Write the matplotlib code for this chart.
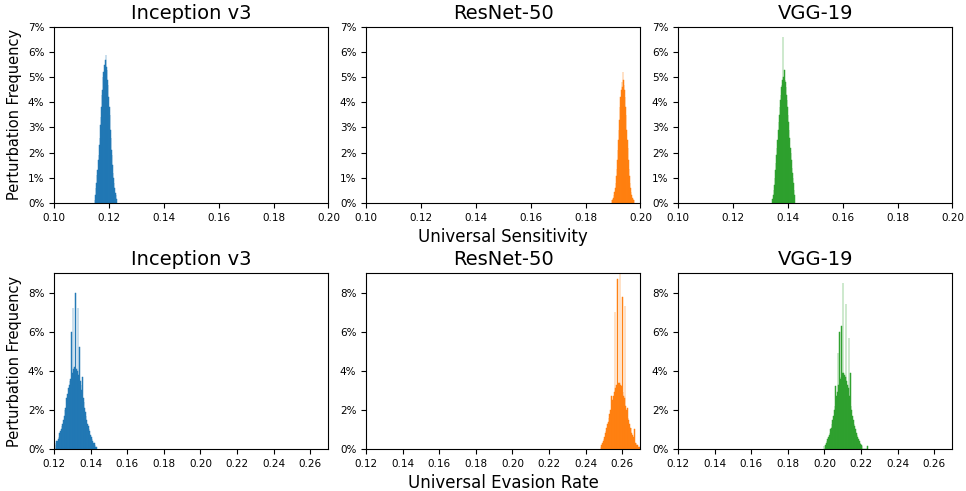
import matplotlib
matplotlib.use('Agg')
import matplotlib.pyplot as plt
import numpy as np
from matplotlib.ticker import PercentFormatter

models = ['Inception v3', 'ResNet-50', 'VGG-19']
colors = ['#1f77b4', '#ff7f0e', '#2ca02c']

# Universal sensitivity histograms (bin width 0.0002, heights in %)
sens_step = 0.0002
sens_start = [0.1149, 0.1896, 0.1345]
sens_incep = [0.1, 0.3, 0.6, 0.8, 1.1, 1.3, 1.7, 1.9, 2.3, 2.6, 3.1, 3.4, 3.8, 4.3,
              4.5, 5.0, 5.2, 5.5, 5.4, 5.7, 5.9, 5.4, 5.3, 4.9, 4.7, 4.2, 3.8, 3.5,
              2.9, 2.6, 2.1, 1.9, 1.5, 1.2, 1.0, 0.8, 0.6, 0.4, 0.3, 0.15]
sens_resnet = [0.1, 0.1, 0.15, 0.2, 0.3, 0.45, 0.6, 0.8, 1.05, 1.35, 1.7, 2.1, 2.5,
               2.9, 3.3, 3.8, 4.2, 4.5, 4.8, 4.6, 5.2, 4.9, 4.7, 4.5, 4.2, 3.8, 3.5,
               2.9, 2.5, 2.2, 1.7, 1.35, 1.05, 0.8, 0.6, 0.45, 0.3, 0.2, 0.15, 0.1, 0.1]
sens_vgg = [0.15, 0.3, 0.5, 0.7, 1.0, 1.3, 1.6, 1.9, 2.2, 2.5, 2.9, 3.2, 3.5, 3.8,
            4.1, 4.3, 4.6, 4.7, 4.9, 6.6, 5.0, 5.3, 4.9, 4.8, 4.6, 4.3, 4.1, 3.8,
            3.5, 3.2, 2.9, 2.6, 2.2, 2.0, 1.7, 1.4, 1.2, 1.0, 0.8, 0.5, 0.3]

# Universal evasion rate histograms (bin width 0.0004, heights in %)
evas_step = 0.0004
evas_start = [0.1199, 0.2484, 0.1998]
evas_incep = [0.15, 0.2, 0.0, 0.3, 0.4, 0.4, 0.5, 0.6, 0.8, 0.9, 1.0, 1.2, 1.3, 1.5,
              1.7, 2.0, 2.1, 2.6, 2.6, 2.8, 3.1, 3.3, 3.5, 3.6, 6.0, 3.9, 7.2, 4.1,
              4.2, 4.2, 8.0, 4.1, 4.0, 7.2, 3.8, 5.2, 3.5, 3.3, 3.0, 3.7, 2.6, 2.4,
              2.1, 1.9, 1.7, 1.5, 1.3, 1.2, 1.0, 0.9, 0.7, 0.6, 0.5, 0.4, 0.3, 0.3,
              0.2, 0.1, 0.1]
evas_resnet = [0.1, 0.2, 0.3, 0.4, 0.5, 0.6, 0.8, 0.9, 1.1, 1.3, 1.4, 1.6, 1.8, 2.0,
               2.7, 2.3, 2.5, 2.7, 2.9, 7.0, 3.1, 3.3, 3.3, 8.7, 3.4, 3.4, 9.0, 3.3,
               3.2, 7.8, 2.9, 2.7, 2.6, 7.3, 2.2, 2.0, 2.1, 1.6, 1.5, 1.3, 1.1, 1.1,
               0.8, 0.7, 0.6, 0.5, 1.0, 0.3, 0.3, 0.2, 0.2, 0.1, 0.1, 0.1]
evas_vgg = [0.15, 0.0, 0.2, 0.3, 0.4, 0.5, 0.6, 0.7, 0.8, 1.0, 1.1, 1.3, 1.5, 1.7,
            2.0, 2.2, 3.2, 2.7, 2.9, 4.9, 3.3, 6.0, 3.6, 3.7, 6.3, 3.9, 8.5, 3.9,
            3.8, 3.7, 7.4, 3.5, 3.3, 3.1, 5.7, 2.7, 3.9, 2.2, 2.0, 1.7, 1.5, 1.3,
            1.2, 1.0, 0.8, 0.7, 0.6, 0.5, 0.4, 0.3, 0.25, 0.2, 0.15, 0.0, 0.0, 0.0,
            0.0, 0.0, 0.0, 0.15]

sens_data = [sens_incep, sens_resnet, sens_vgg]
evas_data = [evas_incep, evas_resnet, evas_vgg]

sens_xticks = [0.10, 0.12, 0.14, 0.16, 0.18, 0.20]
evas_xticks = [0.12, 0.14, 0.16, 0.18, 0.20, 0.22, 0.24, 0.26]

fig, axes = plt.subplots(2, 3, figsize=(9.66, 4.91), dpi=100)
fig.subplots_adjust(left=0.056, right=0.986, top=0.945, bottom=0.0855,
                    wspace=0.137, hspace=0.4)

for i in range(3):
    # top row: sensitivity
    ax = axes[0, i]
    h = np.array(sens_data[i])
    centers = sens_start[i] + np.arange(len(h)) * sens_step
    ax.bar(centers, h, width=sens_step, color=colors[i],
           edgecolor=colors[i], linewidth=0.35, alpha=0.95)
    ax.set_xlim(0.10, 0.20)
    ax.set_ylim(0, 7)
    ax.set_xticks(sens_xticks)
    ax.set_xticklabels([f'{t:.2f}' for t in sens_xticks])
    ax.set_yticks(range(0, 8))
    ax.yaxis.set_major_formatter(PercentFormatter(100, decimals=0))
    ax.set_title(models[i], fontsize=14)
    ax.tick_params(labelsize=7.5)

    # bottom row: evasion rate
    ax = axes[1, i]
    h = np.array(evas_data[i])
    centers = evas_start[i] + np.arange(len(h)) * evas_step
    ax.bar(centers, h, width=evas_step, color=colors[i],
           edgecolor=colors[i], linewidth=0.35, alpha=0.95)
    ax.set_xlim(0.12, 0.27)
    ax.set_ylim(0, 9)
    ax.set_xticks(evas_xticks)
    ax.set_xticklabels([f'{t:.2f}' for t in evas_xticks])
    ax.set_yticks([0, 2, 4, 6, 8])
    ax.yaxis.set_major_formatter(PercentFormatter(100, decimals=0))
    ax.set_title(models[i], fontsize=14)
    ax.tick_params(labelsize=7.5)

axes[0, 0].set_ylabel('Perturbation Frequency', fontsize=10.5)
axes[1, 0].set_ylabel('Perturbation Frequency', fontsize=10.5)
axes[0, 1].set_xlabel('Universal Sensitivity', fontsize=12)
axes[1, 1].set_xlabel('Universal Evasion Rate', fontsize=12)

plt.savefig('out.png', dpi=100)
